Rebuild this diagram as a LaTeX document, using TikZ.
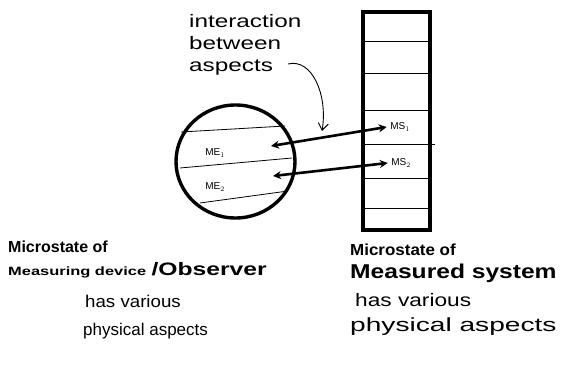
\documentclass[tikz,border=0pt]{standalone}
\usepackage{fontspec}
\setmainfont{Liberation Sans}
\usetikzlibrary{shapes.geometric,arrows.meta}
\newcommand\hstr[2]{\scalebox{#1}[1]{#2}}
\begin{document}
\begin{tikzpicture}[x=1pt,y=-1pt,
  thick line/.style={line width=3.4pt},
  thin line/.style={line width=0.8pt},
  arr/.style={line width=2.6pt,{Stealth[length=8pt,width=8pt]}-{Stealth[length=8pt,width=8pt]}},
  lbl/.style={font=\fontsize{10}{11}\selectfont},
  txt/.style={anchor=west,inner sep=0pt}]
\useasboundingbox (0,0) rectangle (582,377);
% measured system (rectangle)
\node[draw,thick line,minimum width=67pt,minimum height=218pt,inner sep=0pt] (sys) at (396.5,121) {};
\foreach \yy in {41,73,110,178,208}
  \draw[thin line] (sys.west |- 0,\yy) -- (sys.east |- 0,\yy);
\draw[thin line] (sys.west |- 0,144) -- (435,144);
% observer (circle)
\node[draw,ellipse,thick line,minimum width=119pt,minimum height=113pt,inner sep=0pt] (obs) at (235.5,161.5) {};
\draw[thin line] (181,132) -- (285,126);
\draw[thin line] (180,168) -- (292,158);
\draw[thin line] (200,203) -- (288,191);
% labels
\node[lbl] (me1) at (215,153) {ME$_1$};
\node[lbl] (me2) at (215,187) {ME$_2$};
\node[lbl] (ms1) at (400,127) {MS$_1$};
\node[lbl] (ms2) at (401,163) {MS$_2$};
\coordinate (e1) at (271,146);
\coordinate (e2) at (273,176);
\draw[arr] (e1) -- (ms1.west);
\draw[arr] (e2) -- (ms2.west);
% annotation
\node[anchor=north west,inner sep=0pt] (ann) at (189,12)
  {\fontsize{18}{22}\selectfont\hstr{1.35}{\begin{tabular}{@{}l@{}}interaction\\between\\aspects\end{tabular}}};
\coordinate (s0) at (288,64);
\coordinate (s1) at (322,131);
\draw[line width=0.9pt,-{Straight Barb[length=7pt,width=10pt]}] (s0) .. controls (312,58) and (328,95) .. (s1);
% bottom texts
\node[txt] (t1) at (8,247) {\fontsize{16}{18}\selectfont\bfseries Microstate of};
\node[txt] (t2a) at (8,272) {\fontsize{12}{14}\selectfont\bfseries\hstr{1.37}{Measuring device}};
\node[txt,anchor=base west] (t2b) at ([xshift=5pt]t2a.base east) {\fontsize{18}{20}\selectfont\bfseries\hstr{1.37}{/Observer}};
\node[txt] (t3) at (85,301) {\fontsize{17}{19}\selectfont\hstr{1.1}{has various}};
\node[txt] (t4) at (83,331) {\fontsize{17}{19}\selectfont physical aspects};
\node[txt] (r1) at (350,250) {\fontsize{16}{18}\selectfont\bfseries\hstr{1.06}{Microstate of}};
\node[txt] (r2) at (350,273) {\fontsize{20}{22}\selectfont\bfseries\hstr{1.23}{Measured system}};
\node[txt] (r3) at (355,300) {\fontsize{18}{20}\selectfont\hstr{1.26}{has various}};
\node[txt] (r4) at (350,327) {\fontsize{19}{21}\selectfont\hstr{1.48}{physical aspects}};
\end{tikzpicture}
\end{document}
